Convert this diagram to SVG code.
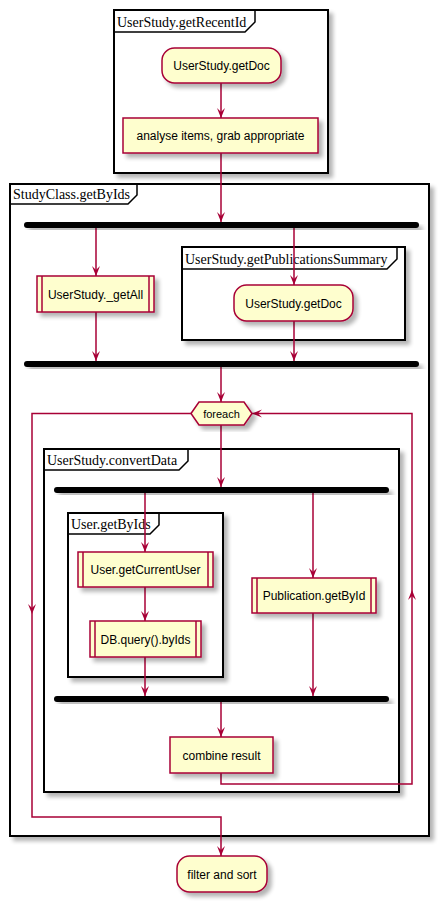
<svg xmlns="http://www.w3.org/2000/svg" width="440" height="902" viewBox="0 0 440 902">
<defs>
<filter id="sh" x="-20%" y="-20%" width="150%" height="150%">
<feGaussianBlur in="SourceAlpha" stdDeviation="2"/>
<feOffset dx="4" dy="4" result="b"/>
<feComponentTransfer><feFuncA type="linear" slope="0.3"/></feComponentTransfer>
<feMerge><feMergeNode/><feMergeNode in="SourceGraphic"/></feMerge>
</filter>
<marker id="ah" viewBox="0 0 10 10" refX="10" refY="5" markerWidth="10" markerHeight="10" markerUnits="userSpaceOnUse" orient="auto">
<path d="M0,1 L10,5 L0,9 L4,5 Z" fill="#A80036"/>
</marker>
</defs>
<style>
.fr{fill:none;stroke:#000;stroke-width:2}
.frb{fill:#fff;stroke:#000;stroke-width:2}
.tab{fill:none;stroke:#000;stroke-width:1.5}
.ft{font-family:"Liberation Serif",serif;font-size:14px;fill:#000}
.nd{fill:#FEFECE;stroke:#A80036;stroke-width:1.5}
.nt{font-family:"Liberation Sans",Arial,sans-serif;font-size:12px;fill:#000;text-anchor:middle}
.bar{fill:#000}
.ln{fill:none;stroke:#A80036;stroke-width:1.5}
.ar{fill:none;stroke:#A80036;stroke-width:1.5;marker-end:url(#ah)}
.hd{fill:#A80036}
</style>

<g id="frame-getRecentId">
<rect x="114" y="10" width="214" height="163" class="frb" filter="url(#sh)"/>
<path d="M114,32 L245,32 L255,22 L255,10" class="tab"/>
<text x="117" y="27" class="ft">UserStudy.getRecentId</text>
</g>
<g id="frame-getByIds">
<rect x="10" y="184" width="419" height="652" class="frb" filter="url(#sh)"/>
<path d="M10,204 L128,204 L137,195 L137,184" class="tab"/>
<text x="13" y="199" class="ft">StudyClass.getByIds</text>
</g>
<g id="frame-pubSummary">
<rect x="182" y="247" width="223" height="93" class="frb" filter="url(#sh)"/>
<path d="M182,269 L387,269 L397,259 L397,247" class="tab"/>
<text x="185" y="264" class="ft">UserStudy.getPublicationsSummary</text>
</g>
<g id="frame-convertData">
<rect x="44" y="449" width="355" height="343" class="frb" filter="url(#sh)"/>
<path d="M44,470 L179,470 L188,461 L188,449" class="tab"/>
<text x="47" y="465" class="ft">UserStudy.convertData</text>
</g>
<g id="frame-userGetByIds">
<rect x="68" y="513" width="155" height="164" class="frb" filter="url(#sh)"/>
<path d="M68,534 L150,534 L159,525 L159,513" class="tab"/>
<text x="71" y="529" class="ft">User.getByIds</text>
</g>

<g id="connectors">
<line x1="221" y1="83" x2="221" y2="118" class="ar"/>
<line x1="221" y1="153" x2="221" y2="222" class="ar"/>
<line x1="96" y1="227" x2="96" y2="276" class="ar"/>
<line x1="294" y1="227" x2="294" y2="285" class="ar"/>
<line x1="96" y1="312" x2="96" y2="361" class="ar"/>
<line x1="294" y1="321" x2="294" y2="361" class="ar"/>
<line x1="221" y1="367" x2="221" y2="402" class="ar"/>
<line x1="221" y1="425" x2="221" y2="487" class="ar"/>
<line x1="145" y1="493" x2="145" y2="552" class="ar"/>
<line x1="145" y1="587" x2="145" y2="621" class="ar"/>
<line x1="145" y1="657" x2="145" y2="696" class="ar"/>
<line x1="313" y1="493" x2="313" y2="578" class="ar"/>
<line x1="313" y1="613" x2="313" y2="696" class="ar"/>
<line x1="221" y1="702" x2="221" y2="737" class="ar"/>
<path d="M221,773 L221,784 L412,784 L412,413.5 L252,413.5" class="ar"/>
<path d="M412,590 L416,600 L412,596 L408,600 Z" class="hd"/>
<path d="M191,413.5 L32,413.5 L32,817 L221,817 L221,856" class="ar"/>
<path d="M32,614 L28,604 L32,608 L36,604 Z" class="hd"/>
</g>

<g id="n-getDoc1">
<rect x="162" y="48" width="119" height="35" rx="12.5" class="nd" filter="url(#sh)"/>
<text x="221.5" y="70" class="nt">UserStudy.getDoc</text>
</g>
<g id="n-analyse">
<rect x="123" y="118" width="195" height="35" class="nd" filter="url(#sh)"/>
<text x="220.5" y="140" class="nt">analyse items, grab appropriate</text>
</g>
<g id="bar-fork1">
<rect x="24" y="222" width="395" height="6" rx="3" class="bar" filter="url(#sh)"/>
</g>
<g id="n-getAll">
<rect x="37" y="276" width="117" height="36" class="nd" filter="url(#sh)"/>
<line x1="42" y1="276" x2="42" y2="312" class="ln"/>
<line x1="149" y1="276" x2="149" y2="312" class="ln"/>
<text x="95.5" y="298.5" class="nt">UserStudy._getAll</text>
</g>
<g id="n-getDoc2">
<rect x="234" y="285" width="119" height="36" rx="12.5" class="nd" filter="url(#sh)"/>
<text x="293.5" y="307.5" class="nt">UserStudy.getDoc</text>
</g>
<g id="bar-join1">
<rect x="24" y="361" width="395" height="6" rx="3" class="bar" filter="url(#sh)"/>
</g>
<g id="n-foreach">
<polygon points="191,413.5 199,402 244,402 252,413.5 244,425 199,425" class="nd" filter="url(#sh)"/>
<text x="221.5" y="418" class="nt" style="font-size:11px">foreach</text>
</g>
<g id="bar-fork2">
<rect x="54" y="487" width="335" height="6" rx="3" class="bar" filter="url(#sh)"/>
</g>
<g id="n-getCurrentUser">
<rect x="78" y="552" width="135" height="35" class="nd" filter="url(#sh)"/>
<line x1="83" y1="552" x2="83" y2="587" class="ln"/>
<line x1="208" y1="552" x2="208" y2="587" class="ln"/>
<text x="145.5" y="574" class="nt">User.getCurrentUser</text>
</g>
<g id="n-dbQuery">
<rect x="90" y="621" width="111" height="36" class="nd" filter="url(#sh)"/>
<line x1="95" y1="621" x2="95" y2="657" class="ln"/>
<line x1="196" y1="621" x2="196" y2="657" class="ln"/>
<text x="145.5" y="643.5" class="nt">DB.query().byIds</text>
</g>
<g id="n-pubGetById">
<rect x="252" y="578" width="124" height="35" class="nd" filter="url(#sh)"/>
<line x1="257" y1="578" x2="257" y2="613" class="ln"/>
<line x1="371" y1="578" x2="371" y2="613" class="ln"/>
<text x="314" y="600" class="nt">Publication.getById</text>
</g>
<g id="bar-join2">
<rect x="54" y="696" width="335" height="6" rx="3" class="bar" filter="url(#sh)"/>
</g>
<g id="n-combine">
<rect x="170" y="737" width="103" height="36" class="nd" filter="url(#sh)"/>
<text x="221.5" y="759.5" class="nt">combine result</text>
</g>
<g id="n-filter">
<rect x="177" y="856" width="90" height="36" rx="12.5" class="nd" filter="url(#sh)"/>
<text x="222" y="878.5" class="nt">filter and sort</text>
</g>
</svg>
